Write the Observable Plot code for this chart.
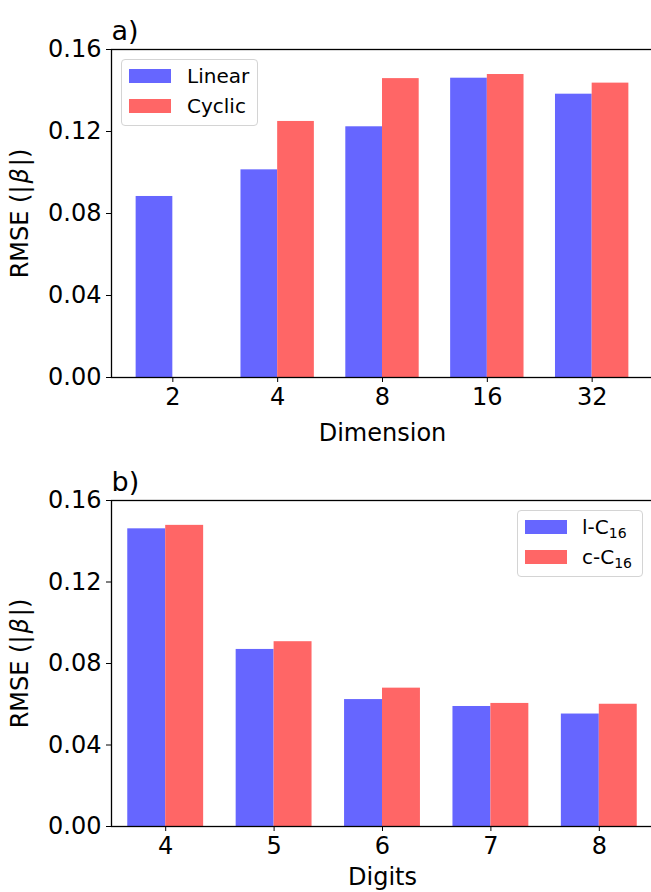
<!DOCTYPE html>
<html>
<head>
<meta charset="utf-8">
<script src="https://cdn.jsdelivr.net/npm/d3@7"></script>
<script src="https://cdn.jsdelivr.net/npm/@observablehq/plot@0.6"></script>
<style>
  html, body { margin: 0; padding: 0; background: #fff; overflow: hidden; }
  #wrap { position: relative; width: 651px; height: 892px; overflow: hidden; font-family: "DejaVu Sans", sans-serif; }
  .legend { position: absolute; border: 1px solid #d4d4d4; border-radius: 4px; background: rgba(255,255,255,0.85); box-sizing: border-box; }
  .legend .sw { position: absolute; width: 42px; height: 14px; }
  .legend .lab { position: absolute; font-size: 20px; line-height: 1; white-space: nowrap; color: #000; }
  .legend sub { font-size: 70%; vertical-align: -0.25em; line-height: 0; }
</style>
</head>
<body>
<div id="wrap"></div>
<script>
// ---- data ----
const dimensions = ["2", "4", "8", "16", "32"];
const linearRMSE = [0.0883, 0.1013, 0.1223, 0.1460, 0.1382];
const cyclicRMSE = [null, 0.1249, 0.1458, 0.1478, 0.1436];

const digits = ["4", "5", "6", "7", "8"];
const lC16RMSE = [0.1461, 0.0869, 0.0623, 0.0589, 0.0552];
const cC16RMSE = [0.1478, 0.0907, 0.0679, 0.0604, 0.0600];

const yTicks = [0, 0.04, 0.08, 0.12, 0.16];
const blue = "#6666ff";
const red = "#ff6666";
const barWidth = 0.35;

function toRows(cats, vals) {
  return cats.map((c, i) => ({i, c, v: vals[i]})).filter(d => d.v != null);
}

function panel({cats, s1, s2, xLabel, letter, height, marginTop, marginBottom, xPad, xLabelOffset}) {
  const r1 = toRows(cats, s1), r2 = toRows(cats, s2);
  const n = cats.length;
  const chart = Plot.plot({
    width: 654,
    height,
    marginLeft: 111,
    marginRight: 1,
    marginTop,
    marginBottom,
    style: {fontFamily: "DejaVu Sans, sans-serif", fontSize: "24px", color: "#000", background: "transparent", maxWidth: "none", overflow: "visible"},
    x: {
      type: "linear",
      domain: [-(barWidth + xPad), (n - 1) + barWidth + xPad],
      ticks: d3.range(n),
      tickFormat: i => cats[i],
      tickSize: 5,
      tickPadding: 5,
      label: xLabel,
      labelAnchor: "center",
      labelOffset: xLabelOffset,
      labelArrow: "none"
    },
    y: {
      domain: [0, 0.16],
      ticks: yTicks,
      tickFormat: d => d.toFixed(2),
      tickSize: 5,
      tickPadding: 5,
      label: "RMSE (|β|)",
      labelAnchor: "center",
      labelOffset: 101,
      labelArrow: "none"
    },
    marks: [
      Plot.rectY(r1, {x1: d => d.i - barWidth, x2: d => d.i, y: "v", fill: blue}),
      Plot.rectY(r2, {x1: d => d.i, x2: d => d.i + barWidth, y: "v", fill: red}),
      Plot.frame({stroke: "#000", strokeWidth: 1.3}),
      Plot.text([letter], {text: d => d, frameAnchor: "top-left", lineAnchor: "bottom", textAnchor: "start", dy: -10, fontSize: 27})
    ]
  });
  // italic beta in the y label (mathtext style)
  chart.querySelectorAll("text").forEach(t => {
    if (t.textContent === "RMSE (|β|)") {
      while (t.firstChild) t.removeChild(t.firstChild);
      const ns = "http://www.w3.org/2000/svg";
      const a = document.createElementNS(ns, "tspan"); a.textContent = "RMSE (|";
      const b = document.createElementNS(ns, "tspan"); b.textContent = "β"; b.setAttribute("font-style", "italic"); b.setAttribute("dx", "2");
      const c = document.createElementNS(ns, "tspan"); c.textContent = "|)"; c.setAttribute("dx", "2");
      t.append(a, b, c);
    }
  });
  return chart;
}

const wrap = document.getElementById("wrap");

const chartA = panel({cats: dimensions, s1: linearRMSE, s2: cyclicRMSE, xLabel: "Dimension", letter: "a)", height: 460, marginTop: 49, marginBottom: 83, xPad: 0.235, xLabelOffset: 63});
chartA.style.position = "absolute"; chartA.style.left = "0px"; chartA.style.top = "0px";
wrap.appendChild(chartA);

const chartB = panel({cats: digits, s1: lC16RMSE, s2: cC16RMSE, xLabel: "Digits", letter: "b)", height: 432, marginTop: 40, marginBottom: 66, xPad: 0.15, xLabelOffset: 58});
chartB.style.position = "absolute"; chartB.style.left = "0px"; chartB.style.top = "460px";
wrap.appendChild(chartB);

// legends
function legend(left, top, w, h, entries) {
  const box = document.createElement("div");
  box.className = "legend";
  Object.assign(box.style, {left: left + "px", top: top + "px", width: w + "px", height: h + "px"});
  entries.forEach((e, k) => {
    const sw = document.createElement("div");
    sw.className = "sw";
    Object.assign(sw.style, {left: "7px", top: (9 + k * 30) + "px", background: e.color});
    const lab = document.createElement("div");
    lab.className = "lab";
    Object.assign(lab.style, {left: e.textLeft + "px", top: (6 + k * 30) + "px"});
    lab.innerHTML = e.html;
    box.append(sw, lab);
  });
  wrap.appendChild(box);
}
legend(121, 59, 137, 67, [
  {color: blue, html: "Linear", textLeft: 65},
  {color: red, html: "Cyclic", textLeft: 65}
]);
legend(517, 510, 126, 67, [
  {color: blue, html: "l-C<sub>16</sub>", textLeft: 64},
  {color: red, html: "c-C<sub>16</sub>", textLeft: 64}
]);
</script>
</body>
</html>
